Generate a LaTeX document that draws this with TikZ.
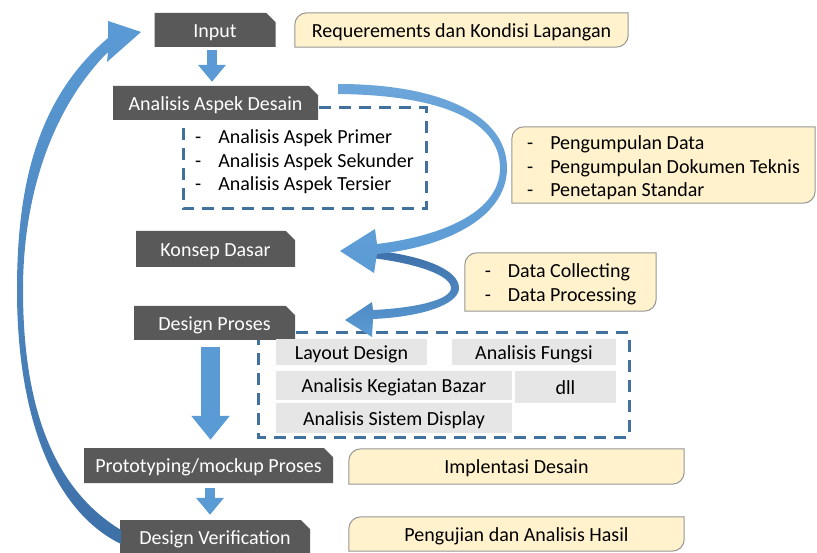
\documentclass[tikz,border=0pt]{standalone}
\usepackage{fontspec}
\setmainfont{Carlito}
\usetikzlibrary{shapes.misc,arrows.meta,backgrounds}
\definecolor{boxgray}{RGB}{89,89,89}
\definecolor{notefill}{RGB}{255,242,204}
\definecolor{noteline}{RGB}{150,150,150}
\definecolor{dashblue}{RGB}{65,113,156}
\definecolor{cellgray}{RGB}{231,230,230}
\definecolor{arrowblue}{RGB}{91,155,213}
\definecolor{arrowdark}{RGB}{62,112,168}
\begin{document}
\begin{tikzpicture}[x=1pt,y=-1pt,
    every node/.style={font=\fontsize{20}{23.5}\selectfont},
    oneline/.style={text height=14.5pt,text depth=0pt},
    darkbox/.style={oneline,chamfered rectangle,chamfered rectangle corners=north east,
        chamfered rectangle xsep=6pt,fill=boxgray,text=white,inner sep=0pt,minimum height=34pt},
    note/.style={inner sep=0pt,minimum height=34pt,align=left},
    cell/.style={oneline,fill=cellgray,inner sep=0pt},
    dashbox/.style={draw=dashblue,line width=3pt,dash pattern=on 12pt off 8pt},
    smallarr/.style={draw=arrowblue,line width=10pt,-{Triangle[width=27pt,length=17pt]}},
    bigarr/.style={draw=arrowblue,line width=19pt,-{Triangle[width=37pt,length=24pt]}}]
    \useasboundingbox (0,0) rectangle (817,553);
    \def\itm{-\hspace{17pt}}%
    \def\notebg#1{\filldraw[fill=notefill,draw=noteline,line width=1pt]
        (#1.south west) -- ([yshift=-12pt]#1.north west) arc[start angle=180,end angle=90,radius=12pt]
        -- (#1.north east) -- ([yshift=12pt]#1.south east) arc[start angle=0,end angle=-90,radius=12pt] -- cycle;}%
    % langkah utama
    \node[darkbox,minimum width=121pt] (inp) at (215,30) {Input};
    \node[darkbox,minimum width=205pt] (aad) at (215.5,103) {Analisis Aspek Desain};
    \node[darkbox,minimum width=159pt,minimum height=36pt] (kd) at (215.5,249) {Konsep Dasar};
    \node[darkbox,minimum width=161pt] (dp) at (214.5,323) {Design Proses};
    \node[darkbox,minimum width=249pt,minimum height=35pt] (proto) at (208.5,465.5) {Prototyping/mockup Proses};
    \node[darkbox,minimum width=190pt] (dv) at (215,537) {Design Verification};
    % keterangan
    \node[note,oneline,minimum width=333pt] (req) at (461.5,30) {Requerements dan Kondisi Lapangan};
    \node[note,minimum width=303pt,minimum height=76pt] (pd) at (663.5,165)
        {\rule{0pt}{20pt}\itm Pengumpulan Data\\ \itm Pengumpulan Dokumen Teknis\\ \itm Penetapan Standar};
    \node[note,minimum width=191pt,minimum height=58pt] (dc) at (560.5,282)
        {\rule{0pt}{18pt}\itm Data Collecting\\ \itm Data Processing};
    \node[note,oneline,minimum width=335pt,minimum height=35pt] (impl) at (516.5,466.5) {Implentasi Desain};
    \node[note,oneline,minimum width=335pt] (uji) at (516.5,534) {Pengujian dan Analisis Hasil};
    % isi kotak putus-putus
    \node[anchor=west,align=left,inner sep=0pt] (aspek) at (195,162)
        {\itm Analisis Aspek Primer\\ \itm Analisis Aspek Sekunder\\ \itm Analisis Aspek Tersier};
    \node[cell,minimum width=151pt,minimum height=26pt] (lay) at (351.5,352) {Layout Design};
    \node[cell,minimum width=164pt,minimum height=26pt] (fun) at (534,352) {Analisis Fungsi};
    \node[cell,minimum width=236pt,minimum height=29pt] (keg) at (394,385.5) {Analisis Kegiatan Bazar};
    \node[cell,minimum width=101pt,minimum height=32pt] (dll) at (565.5,387) {dll};
    \node[cell,minimum width=236pt,minimum height=30pt] (sis) at (394,418) {Analisis Sistem Display};
    \begin{scope}[on background layer]
        \foreach \n in {req,pd,dc,impl,uji} {\notebg{\n}}
        \draw[dashbox] (183,108) rectangle (426,209);
        \draw[dashbox] (258,333) rectangle (629,437);
    \end{scope}
    % panah lurus
    \draw[smallarr] ([xshift=-3pt,yshift=-3pt]inp.south) -- ([xshift=-3.5pt,yshift=4pt]aad.north);
    \draw[bigarr] ([xshift=-4pt,yshift=-7pt]dp.south) -- ([xshift=2pt,yshift=8pt]proto.north);
    \draw[smallarr] ([xshift=1.5pt,yshift=-5pt]proto.south) -- ([xshift=-5pt,yshift=5pt]dv.north);
    % panah lengkung
    \shade[top color=arrowblue,bottom color=arrowdark]
        (121,544) .. controls (55,512) and (17,420) .. (17,290)
        .. controls (17,190) and (35,100) .. (108,38)
        -- (108,21) -- (141,32) -- (107,62) -- (108,52)
        .. controls (55,105) and (23,190) .. (23,290)
        .. controls (23,410) and (55,490) .. (121,530) -- cycle;
    \shade[top color=arrowdark,bottom color=arrowblue]
        (372,250) .. controls (425,256) and (459,270) .. (459,288)
        .. controls (459,305) and (420,317) .. (373,319)
        -- (372,337) -- (345,320) -- (372,302) -- (373,310)
        .. controls (415,308) and (451,300) .. (451,288)
        .. controls (451,276) and (420,264) .. (372,258) -- cycle;
    \shade[top color=arrowblue!90!white,bottom color=arrowblue]
        (338,84) .. controls (440,84) and (507,115) .. (507,168)
        .. controls (507,220) and (440,248) .. (377,254)
        -- (374,273) -- (340,251) -- (375,229) -- (377,244)
        .. controls (435,237) and (500,215) .. (500,168)
        .. controls (500,120) and (440,95) .. (338,94) -- cycle;
\end{tikzpicture}
\end{document}
